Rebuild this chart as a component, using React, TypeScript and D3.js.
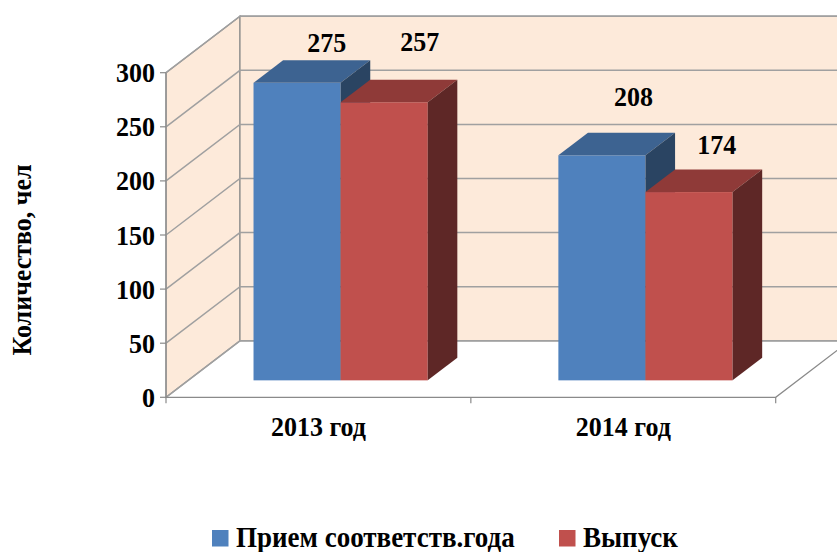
import React, { useEffect } from 'react'
import { scaleLinear, scaleBand } from 'd3'

// chart values
const categories = ['2013 год', '2014 год']
const seriesNames = ['Прием соответств.года', 'Выпуск']
const priem = [275, 208]
const vypusk = [257, 174]
const yTicks = [0, 50, 100, 150, 200, 250, 300]

// manual nudges of the data labels, like the ones dragged by hand in the original
const labelNudge = [
  [[0, -8], [6, -29]],
  [[2, -27], [-2, -15]],
]

const W = 837
const H = 552
const FONT = '"Liberation Serif", "Times New Roman", serif'

const colors = [
  { front: '#4F81BD', top: '#3D6391', side: '#2A4462' },
  { front: '#C0504D', top: '#8F3A38', side: '#5E2726' },
]

const App = () => {
  useEffect(() => {
    document.body.style.margin = '0'
    document.body.style.overflow = 'hidden'
  }, [])

  const x0 = 166
  const x1 = 775.7
  // depth vector of the 3d box
  const DX = 74
  const DY = -56.5
  const d0 = 0.3
  const d1 = 0.7

  const y = scaleLinear().domain([0, 300]).range([397.3, 72.7])
  const xCat = scaleBand<string>().domain(categories).range([x0, x1]).padding(0)
  const gap = 1.5
  const barW = xCat.bandwidth() / (seriesNames.length + gap)
  const xSer = scaleBand<string>()
    .domain(seriesNames)
    .range([(gap * barW) / 2, (gap * barW) / 2 + barW * seriesNames.length])
    .padding(0)

  const P = (x: number, v: number, d: number) => [x + d * DX, y(v) + d * DY]
  const poly = (pts: number[][]) => pts.map((p) => p.join(',')).join(' ')

  const series = [priem, vypusk]
  const gridColor = '#A0A0A0'
  const edgeColor = '#8A8A8A'
  const maxV = 300

  // text in the original is a touch taller than Liberation Serif
  const tall = (x: number, yy: number) => `translate(${x},${yy}) scale(1,1.08)`

  return (
    <svg width={W} height={H} style={{ display: 'block', background: '#fff' }}>
      {/* side wall */}
      <polygon
        points={poly([P(x0, 0, 0), P(x0, maxV, 0), P(x0, maxV, 1), P(x0, 0, 1)])}
        fill="#FDEADA"
        stroke={edgeColor}
        strokeWidth={1.2}
      />
      {/* back wall */}
      <polygon
        points={poly([P(x0, 0, 1), P(x0, maxV, 1), P(x1, maxV, 1), P(x1, 0, 1)])}
        fill="#FDEADA"
        stroke={edgeColor}
        strokeWidth={1.2}
      />
      {/* gridlines */}
      {yTicks.map((t) => (
        <polyline
          key={'g' + t}
          points={poly([P(x0, t, 0), P(x0, t, 1), P(x1, t, 1)])}
          fill="none"
          stroke={gridColor}
          strokeWidth={1.5}
        />
      ))}
      {/* floor edges */}
      <polyline
        points={poly([P(x0, 0, 0), P(x1, 0, 0), P(x1, 0, 1)])}
        fill="none"
        stroke={edgeColor}
        strokeWidth={1.2}
      />
      <line x1={x0} x2={x0} y1={y(0)} y2={y(maxV)} stroke={edgeColor} strokeWidth={1.2} />
      {/* value ticks */}
      {yTicks.map((t) => (
        <g key={'t' + t}>
          <line x1={x0 - 6} x2={x0} y1={y(t)} y2={y(t)} stroke={edgeColor} strokeWidth={1.2} />
          <text
            transform={tall(155, y(t) + 9.5)}
            textAnchor="end"
            fontFamily={FONT}
            fontWeight="bold"
            fontSize={26}
          >
            {t}
          </text>
        </g>
      ))}
      {/* category ticks */}
      {[x0, ...categories.map((c) => (xCat(c) as number) + xCat.bandwidth())].map((xx, i) => (
        <line key={'c' + i} x1={xx} x2={xx} y1={y(0)} y2={y(0) + 6} stroke={edgeColor} strokeWidth={1.2} />
      ))}
      {/* bars */}
      {categories.map((c, ci) =>
        seriesNames.map((s, si) => {
          const v = series[si][ci]
          const bx = (xCat(c) as number) + (xSer(s) as number)
          const col = colors[si]
          const f0 = P(bx, v, d0)
          const f1 = P(bx + barW, 0, d0)
          return (
            <g key={c + s}>
              <rect x={f0[0]} y={f0[1]} width={f1[0] - f0[0]} height={f1[1] - f0[1]} fill={col.front} />
              <polygon
                points={poly([P(bx, v, d0), P(bx + barW, v, d0), P(bx + barW, v, d1), P(bx, v, d1)])}
                fill={col.top}
              />
              <polygon
                points={poly([P(bx + barW, 0, d0), P(bx + barW, v, d0), P(bx + barW, v, d1), P(bx + barW, 0, d1)])}
                fill={col.side}
              />
            </g>
          )
        })
      )}
      {/* data labels */}
      {categories.map((c, ci) =>
        seriesNames.map((s, si) => {
          const v = series[si][ci]
          const bx = (xCat(c) as number) + (xSer(s) as number)
          const p = P(bx + barW / 2, v, d1)
          const [nx, ny] = labelNudge[ci][si]
          return (
            <text
              key={'l' + c + s}
              transform={tall(p[0] + nx, p[1] + ny)}
              textAnchor="middle"
              fontFamily={FONT}
              fontWeight="bold"
              fontSize={26}
            >
              {v}
            </text>
          )
        })
      )}
      {/* category labels */}
      {categories.map((c) => (
        <text
          key={'cl' + c}
          transform={tall((xCat(c) as number) + xCat.bandwidth() / 2, 436)}
          textAnchor="middle"
          fontFamily={FONT}
          fontWeight="bold"
          fontSize={26}
        >
          {c}
        </text>
      ))}
      {/* axis title */}
      <text
        transform="translate(31,260) rotate(-90) scale(1,1.06)"
        textAnchor="middle"
        fontFamily={FONT}
        fontWeight="bold"
        fontSize={26}
      >
        Количество, чел
      </text>
      {/* legend */}
      {seriesNames.map((s, i) => {
        const lx = [212, 559][i]
        return (
          <g key={'lg' + s}>
            <rect x={lx} y={530} width={16.5} height={16.5} fill={colors[i].front} />
            <text transform={tall(lx + 24, 547)} fontFamily={FONT} fontWeight="bold" fontSize={27}>
              {s}
            </text>
          </g>
        )
      })}
    </svg>
  )
}

export default App
